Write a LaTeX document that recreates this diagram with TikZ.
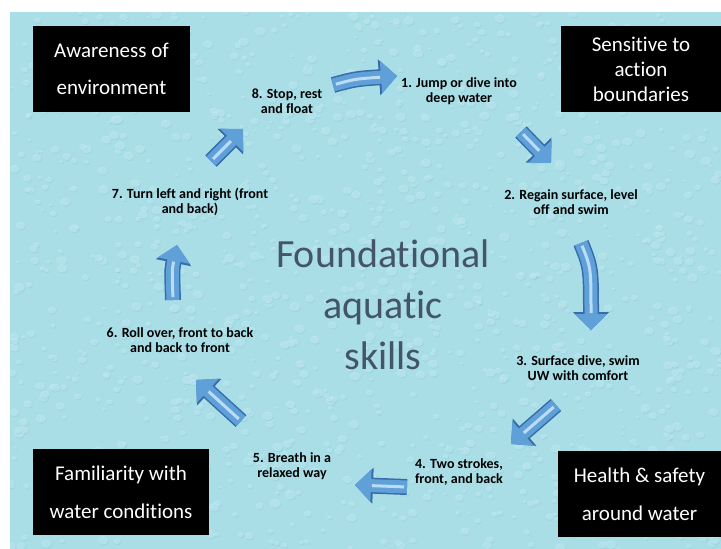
\documentclass[tikz,border=0pt]{standalone}
\usepackage{fontspec}
\setmainfont{Carlito}[Ligatures=NoCommon]
\usetikzlibrary{arrows.meta}
\definecolor{Water}{RGB}{170, 222, 231}
\definecolor{Drop}{RGB}{205, 240, 246}
\definecolor{DropShade}{RGB}{118, 188, 204}
\definecolor{ArrowFill}{RGB}{96, 160, 216}
\definecolor{ArrowEdge}{RGB}{55, 108, 168}
\definecolor{ArrowShine}{RGB}{188, 220, 245}
\definecolor{TitleInk}{RGB}{68, 84, 106}

\begin{document}
\begin{tikzpicture}[x=1pt,y=-1pt,
    box/.style={fill=black, text=white, align=center, inner sep=0pt, minimum height=86pt},
    skill/.style={align=center, font=\fontsize{14}{15}\selectfont\bfseries},
    flow/.style={
      preaction={draw=ArrowEdge, line width=16pt, -{Triangle[width=35pt,length=18pt]}},
      draw=ArrowFill, line width=13pt, -{Triangle[width=32pt,length=16pt]},
      postaction={draw=ArrowShine, line width=3pt, -, shorten >=17pt, shorten <=3pt}}
  ]
    \useasboundingbox (0,0) rectangle (721,549);
    % Water background
    \fill[white] (0,0) rectangle (721,549);
    \fill[Water] (10,12) rectangle (721,549);
    \begin{scope}
      \clip (10,12) rectangle (721,549);
      \pgfmathsetseed{11}
      \foreach \i in {1,...,1300}{
        \pgfmathsetmacro{\dx}{10+711*rnd}
        \pgfmathsetmacro{\dy}{12+537*rnd}
        \pgfmathsetmacro{\dr}{1.5+4*rnd}
        \fill[DropShade, opacity=0.25] (\dx+0.7,\dy+1) ellipse [x radius=\dr, y radius=0.8*\dr];
        \fill[Drop, opacity=0.45] (\dx,\dy) ellipse [x radius=\dr, y radius=0.8*\dr];
      }
    \end{scope}

    % Corner boxes
    \node[box, minimum width=157pt, font=\fontsize{21}{37}\selectfont] (aware) at (111.5,69) {Awareness of\\environment};
    \node[box, minimum width=160pt, font=\fontsize{21}{25}\selectfont] (sensitive) at (641,69) {Sensitive to\\action\\boundaries};
    \node[box, minimum width=176pt, font=\fontsize{21}{38}\selectfont] (familiar) at (121,492) {Familiarity with\\water conditions};
    \node[box, minimum width=163pt, font=\fontsize{21}{38}\selectfont] (health) at (639.5,494) {Health \& safety\\around water};

    % Title
    \node[align=center, text=TitleInk, font=\fontsize{40}{51}\selectfont] (skills) at (383,305) {Foundational\\aquatic\\skills};

    % Skills
    \node[skill] (s1) at (459,91) {1. Jump or dive into\\deep water};
    \node[skill] (s2) at (571,202) {2. Regain surface, level\\off and swim};
    \node[skill] (s3) at (578,368) {3. Surface dive, swim\\UW with comfort};
    \node[skill] (s4) at (459,472.5) {4. Two strokes,\\front, and back};
    \node[skill] (s5) at (292,466) {5. Breath in a\\relaxed way};
    \node[skill] (s6) at (180,340) {6. Roll over, front to back\\and back to front};
    \node[skill] (s7) at (190,202) {7. Turn left and right (front\\and back)};
    \node[skill] (s8) at (287,101) {8. Stop, rest\\and float};

    % Arrow ends
    \coordinate (t81) at (333,85);  \coordinate (h81) at (397,76);
    \coordinate (t12) at (521,132); \coordinate (h12) at (551,163);
    \coordinate (t23) at (581,243); \coordinate (h23) at (591,330);
    \coordinate (t34) at (556,405); \coordinate (h34) at (511,444);
    \coordinate (t45) at (407,487); \coordinate (h45) at (355,485);
    \coordinate (t56) at (241,421); \coordinate (h56) at (196,380);
    \coordinate (t67) at (173,300); \coordinate (h67) at (177,245);
    \coordinate (t78) at (211,161); \coordinate (h78) at (243,129);

    % Arrows
    \draw[flow] (t81) .. controls (355,79) .. (h81);
    \draw[flow] (t12) -- (h12);
    \draw[flow] (t23) .. controls (591,268) .. (h23);
    \draw[flow] (t34) -- (h34);
    \draw[flow] (t45) -- (h45);
    \draw[flow] (t56) -- (h56);
    \draw[flow] (t67) .. controls (172,270) .. (h67);
    \draw[flow] (t78) -- (h78);
\end{tikzpicture}
\end{document}
